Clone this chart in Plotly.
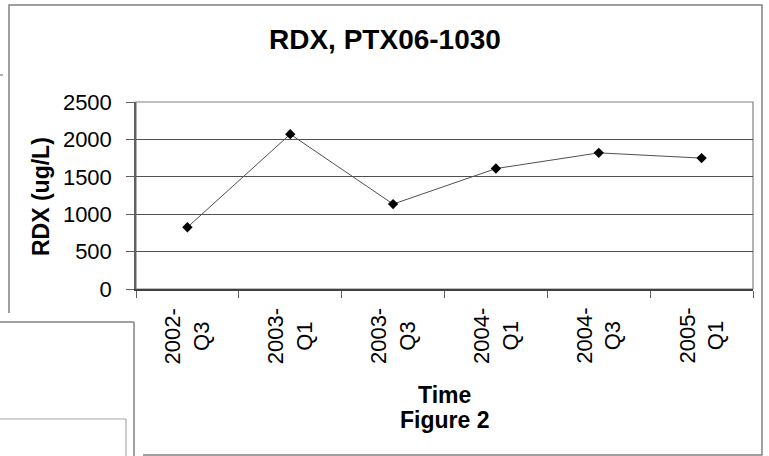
import plotly.graph_objects as go

categories = ["2002-<br>Q3", "2003-<br>Q1", "2003-<br>Q3", "2004-<br>Q1", "2004-<br>Q3", "2005-<br>Q1"]
rdx_values = [825, 2070, 1135, 1610, 1820, 1750]
y_ticks = [0, 500, 1000, 1500, 2000, 2500]

W, H = 769, 456
L, R, T, B = 136, 753, 102, 289  # plot area in pixels


def px(x):
    return (x - L) / (R - L)


def py(y):
    return (B - y) / (B - T)


FONT = "Liberation Sans, Arial, sans-serif"
GRAY = "#808080"

fig = go.Figure()
fig.add_trace(go.Scatter(
    x=categories, y=rdx_values, mode="lines+markers",
    line=dict(color="#505050", width=1),
    marker=dict(symbol="diamond", size=8, color="black"),
    showlegend=False, cliponaxis=False,
))

shapes = []
# outer chart frame
shapes.append(dict(type="rect", xref="paper", yref="paper",
                   x0=px(9), x1=px(762), y0=py(455), y1=py(5),
                   line=dict(color=GRAY, width=1.5), fillcolor="rgba(0,0,0,0)"))
# white overlapping box in lower-left
shapes.append(dict(type="rect", xref="paper", yref="paper",
                   x0=px(-5), x1=px(143), y0=py(470), y1=py(313),
                   line=dict(width=0), fillcolor="white"))
shapes.append(dict(type="line", xref="paper", yref="paper",
                   x0=px(0), x1=px(134), y0=py(322), y1=py(322),
                   line=dict(color=GRAY, width=1.5)))
shapes.append(dict(type="line", xref="paper", yref="paper",
                   x0=px(134), x1=px(134), y0=py(322), y1=py(460),
                   line=dict(color=GRAY, width=1.5)))
shapes.append(dict(type="line", xref="paper", yref="paper",
                   x0=px(0), x1=px(126), y0=py(419), y1=py(419),
                   line=dict(color="#a8a8a8", width=1.2)))
shapes.append(dict(type="line", xref="paper", yref="paper",
                   x0=px(126), x1=px(126), y0=py(419), y1=py(460),
                   line=dict(color="#a8a8a8", width=1.2)))
shapes.append(dict(type="line", xref="paper", yref="paper",
                   x0=px(0), x1=px(3), y0=py(75), y1=py(75),
                   line=dict(color="#606060", width=1)))
# plot area border
shapes.append(dict(type="rect", xref="paper", yref="paper",
                   x0=0, x1=1, y0=0, y1=1,
                   line=dict(color=GRAY, width=1.2), fillcolor="rgba(0,0,0,0)", layer="below"))

annotations = [
    dict(text="<b>RDX, PTX06-1030</b>", xref="paper", yref="paper", x=px(384.5), y=py(39.5),
         showarrow=False, font=dict(family=FONT, size=28, color="black"),
         xanchor="center", yanchor="middle"),
    dict(text="<b>RDX (ug/L)</b>", xref="paper", yref="paper", x=px(41), y=py(197),
         showarrow=False, textangle=-90, font=dict(family=FONT, size=23, color="black"),
         xanchor="center", yanchor="middle"),
    dict(text="<b>Time</b>", xref="paper", yref="paper", x=px(444.5), y=py(394.5),
         showarrow=False, font=dict(family=FONT, size=23, color="black"),
         xanchor="center", yanchor="middle"),
    dict(text="<b>Figure 2</b>", xref="paper", yref="paper", x=px(444), y=py(419.5),
         showarrow=False, font=dict(family=FONT, size=23, color="black"),
         xanchor="center", yanchor="middle"),
]
# category labels, rotated and centre-aligned like the reference
for c in categories:
    annotations.append(dict(text=c, xref="x", yref="paper", x=c, y=py(307),
                            showarrow=False, textangle=-90, align="center",
                            font=dict(family=FONT, size=22, color="black"),
                            xanchor="center", yanchor="top", borderpad=0))

fig.update_layout(
    width=W, height=H,
    margin=dict(l=L, r=W - R, t=T, b=H - B, pad=0),
    paper_bgcolor="white", plot_bgcolor="white",
    font=dict(family=FONT, size=22, color="black"),
    shapes=shapes, annotations=annotations,
    showlegend=False,
)
fig.update_xaxes(
    type="category", range=[-0.5, len(categories) - 0.5],
    tickson="boundaries", ticks="outside", ticklen=7, tickcolor="#606060", tickwidth=1.2,
    showticklabels=False,
    showgrid=False, showline=True, linecolor="#404040", linewidth=1.5,
    zeroline=False,
)
fig.update_yaxes(
    range=[0, 2500], tickvals=y_ticks, ticktext=[str(v) for v in y_ticks],
    ticks="outside", ticklen=8, tickcolor="#606060", tickwidth=1.2,
    tickfont=dict(family=FONT, size=22, color="black"), ticklabelstandoff=10,
    showgrid=True, gridcolor="#505050", gridwidth=1.3,
    showline=True, linecolor="#606060", linewidth=1.5, zeroline=False,
)

fig.write_html("out.html", config={"displayModeBar": False},
               post_script="document.body.style.margin='0';")
